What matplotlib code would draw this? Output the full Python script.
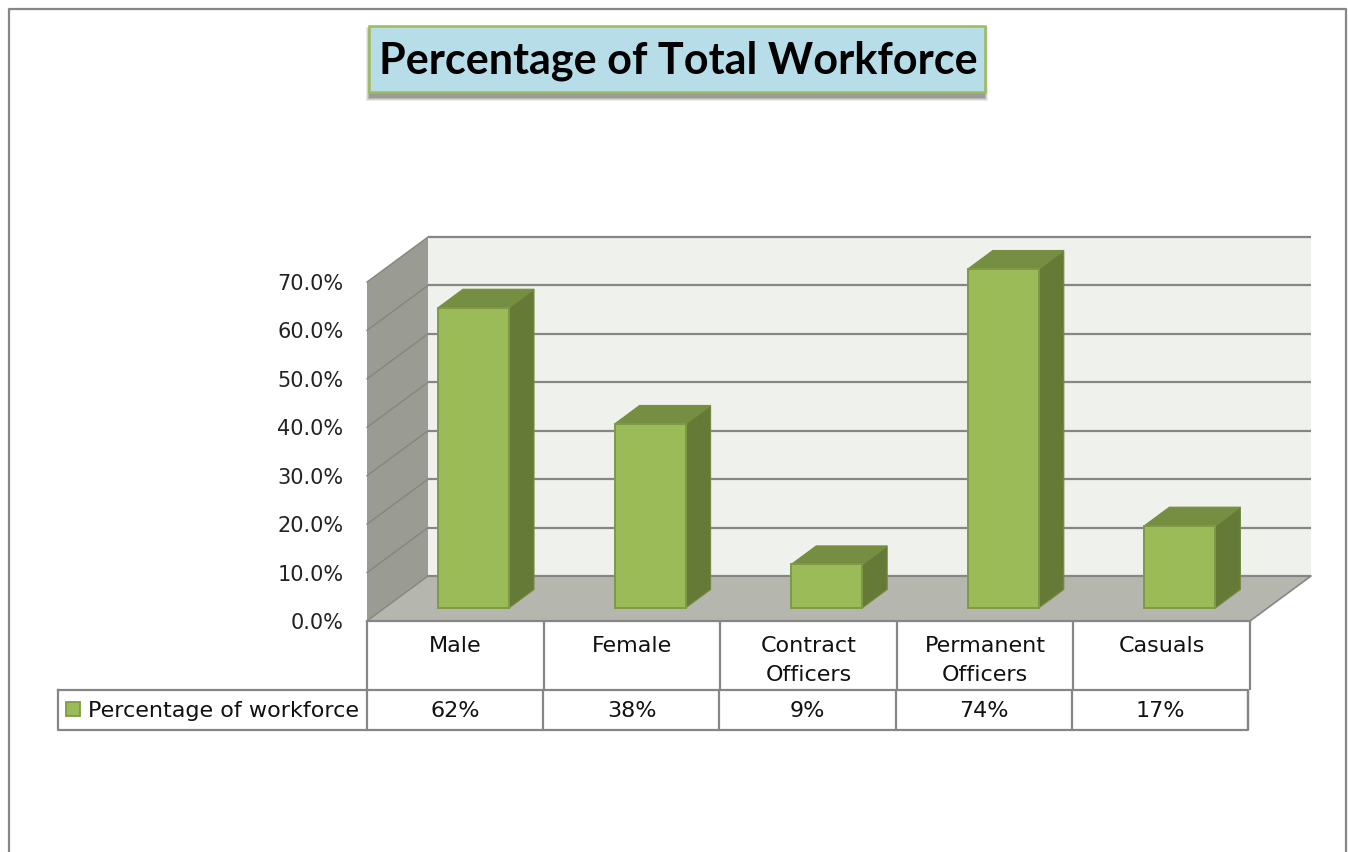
import matplotlib
matplotlib.use("Agg")
import matplotlib.pyplot as plt
from matplotlib.patches import Polygon, Rectangle
from matplotlib.lines import Line2D
from matplotlib.transforms import Affine2D

title = "Percentage of Total Workforce"
categories = ["Male", "Female", "Contract\nOfficers", "Permanent\nOfficers", "Casuals"]
values = [62, 38, 9, 74, 17]
value_labels = ["62%", "38%", "9%", "74%", "17%"]
series_name = "Percentage of workforce"
y_ticks = [0, 10, 20, 30, 40, 50, 60, 70]
y_max = 70

W, H = 1348, 852
GREY = "#868686"
fig = plt.figure(figsize=(W / 100, H / 100), dpi=100, facecolor="white")
FONT = "DejaVu Sans"
FS = 16

# pixel helper for the surrounding furniture (frame, table, title)
px = Affine2D().scale(1, -1).translate(0, H)


def pline(xs, ys, lw=1.5, color=GREY, z=5):
    fig.add_artist(Line2D(xs, ys, transform=px, color=color, lw=lw, zorder=z,
                          solid_capstyle="projecting"))


# axes: x 0..5 -> 367..1250 px, y 0..70 -> 621..282 px
L, R, B, T = 367, 1250, 621, 282
ax = fig.add_axes([L / W, 1 - B / H, (R - L) / W, (B - T) / H])
ax.set_xlim(0, len(categories))
ax.set_ylim(0, y_max)
ax.patch.set_visible(False)
for s in ax.spines.values():
    s.set_visible(False)

ux = (R - L) / len(categories)
uy = (B - T) / y_max
dx, dy = 61 / ux, 45 / uy        # wall depth
bdx, bdy = 25 / ux, 18.5 / uy    # bar depth
base = 13 / uy                   # bars stand in from the floor's front edge
bar_left, bar_w = 71 / ux, 71 / ux
n = len(categories)

ax.add_patch(Polygon([(dx, dy), (n + dx, dy), (n + dx, y_max + dy), (dx, y_max + dy)],
                     fc="#eff2ec", ec="none", clip_on=False, zorder=1))
ax.add_patch(Polygon([(0, 0), (dx, dy), (dx, y_max + dy), (0, y_max)],
                     fc="#9a9c94", ec="none", clip_on=False, zorder=1))
ax.add_patch(Polygon([(0, 0), (n, 0), (n + dx, dy), (dx, dy)],
                     fc="#b5b7af", ec="none", clip_on=False, zorder=1))

for t in y_ticks:
    ax.plot([dx, n + dx], [t + dy, t + dy], color=GREY, lw=1.6, clip_on=False, zorder=2,
            solid_capstyle="butt")
    ax.plot([0, dx], [t, t + dy], color="#85877f", lw=1.0, clip_on=False, zorder=2)
ax.plot([dx, n + dx, n], [dy, dy, 0], color=GREY, lw=1.2, clip_on=False, zorder=2)

EDGE = "#7f9a45"
for i, v in enumerate(values):
    h = min(v, y_max)  # the axis stops at 70%, so the 74% bar is cut off there
    x0 = i + bar_left
    x1 = x0 + bar_w
    top = base + h
    ax.add_patch(Polygon([(x1, base), (x1 + bdx, base + bdy), (x1 + bdx, top + bdy), (x1, top)],
                         fc="#667a37", ec="#748c40", lw=0.8, clip_on=False, zorder=3))
    ax.add_patch(Polygon([(x0, top), (x1, top), (x1 + bdx, top + bdy), (x0 + bdx, top + bdy)],
                         fc="#768e41", ec="#768e41", lw=0.8, clip_on=False, zorder=3))
bars = ax.bar([i + bar_left for i in range(n)], [min(v, y_max) for v in values],
              width=bar_w, bottom=base, align="edge", color="#9bbb59",
              edgecolor=EDGE, linewidth=1.4, zorder=4, clip_on=False)

ax.set_yticks(y_ticks)
ax.set_yticklabels([f"{t:.1f}%" for t in y_ticks], fontsize=FS - 1, family=FONT, color="#222222")
ax.tick_params(axis="y", length=0, pad=17)
ax.set_xticks([i + 0.5 for i in range(n)])
ax.set_xticklabels(categories, fontsize=FS, family=FONT, color="#111111", linespacing=1.58,
                   va="top")
ax.tick_params(axis="x", length=0, pad=10.5)

# data table
xa = ax.get_xaxis_transform()
tab_top = (B - 690) / (B - T)
tab_bot = (B - 730) / (B - T)
ax.plot([0, n], [0, 0], color=GREY, lw=1.6, transform=xa, clip_on=False, zorder=6)
for i in range(n + 1):
    ax.plot([i, i], [0, tab_top], color=GREY, lw=1.6, transform=xa, clip_on=False, zorder=6,
            solid_capstyle="butt")
    ax.plot([i * 0.998] * 2, [tab_top, tab_bot], color=GREY, lw=1.6, transform=xa,
            clip_on=False, zorder=6, solid_capstyle="butt")
pline([58, 1248, 1248, 58, 58], [690, 690, 730, 730, 690], lw=1.6)
for i, lab in enumerate(value_labels):
    ax.text(i * 0.998 + 0.5, (B - 711) / (B - T), lab, transform=xa, ha="center", va="center",
            fontsize=FS, family=FONT, color="#111111", clip_on=False)
fig.add_artist(Rectangle((66, 702), 14, 14, transform=px, fc="#9bbb59", ec=EDGE, lw=1.3))
fig.text(88 / W, 1 - 711 / H, series_name, ha="left", va="center", fontsize=FS, family=FONT,
         color="#111111")

# outer chart frame
pline([9, 9, 1346, 1346], [852, 9, 9, 852], lw=1.6)

# title box with soft drop shadow
for grow, a in [(4, 0.12), (3, 0.18), (2, 0.25), (1, 0.35)]:
    fig.add_artist(Rectangle((369 - grow + 1, 31 - grow), 616 + 2 * grow - 2, 66 + 2 * grow,
                             transform=px, fc="#66665e", ec="none", alpha=a, zorder=6))
fig.add_artist(Rectangle((369, 26), 616, 66, transform=px, fc="#b7dde8", ec="#9bbb59", lw=1.8, zorder=7))
fig.text(678 / W, 1 - 61 / H, title, ha="center", va="center", fontsize=31.1, family="Lato",
         fontweight="bold", color="black", zorder=8)

fig.savefig("out.png", dpi=100)
